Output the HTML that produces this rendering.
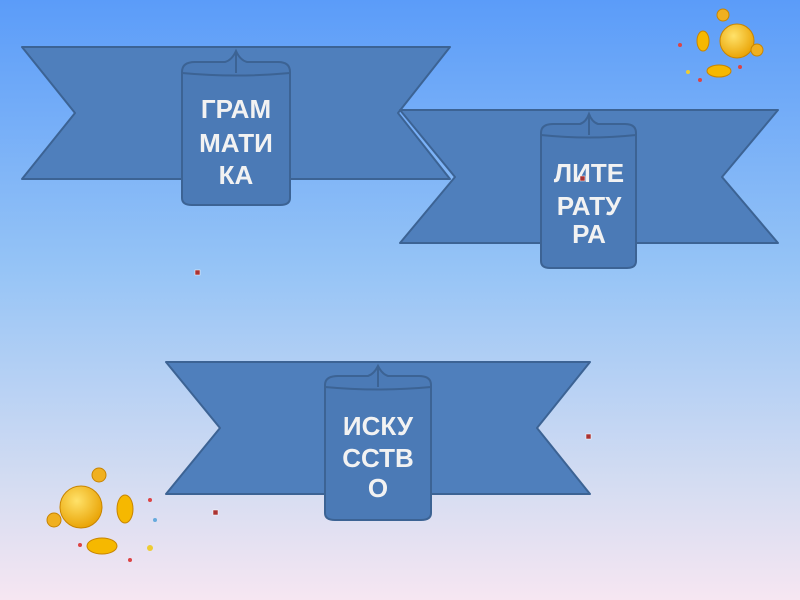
<!DOCTYPE html>
<html><head><meta charset="utf-8"><style>
html,body{margin:0;padding:0;width:800px;height:600px;overflow:hidden}
</style></head><body>
<svg width="800" height="600" xmlns="http://www.w3.org/2000/svg">
<defs>
<linearGradient id="bg" x1="0" y1="0" x2="0" y2="1">
<stop offset="0" stop-color="#5b9cf9"/>
<stop offset="0.45" stop-color="#96c4f6"/>
<stop offset="0.8" stop-color="#d3dcf2"/>
<stop offset="1" stop-color="#f6e6f2"/>
</linearGradient>
<radialGradient id="sm" cx="0.4" cy="0.35" r="0.7">
<stop offset="0" stop-color="#ffe26a"/><stop offset="1" stop-color="#e8a000"/>
</radialGradient>
</defs>
<rect width="800" height="600" fill="url(#bg)"/>
<g fill="#4f7fbc" stroke="#3c6394" stroke-width="2" stroke-linejoin="round">
<polygon points="22,47 450,47 398,113 450,179 22,179 75,113"/>
<polygon points="400,110 778,110 722,177 778,243 400,243 455,177"/>
<polygon points="166,362 590,362 537,428 590,494 166,494 220,428"/>
</g>
<g fill="#4b7ab6" stroke="#3c6394" stroke-width="2">
<path d="M182,72 Q182,62 195,62 L225,62 Q232,60 236,51 Q240,60 247,62 L278,62 Q290,62 290,72 L290,198 Q290,205 280,205 L192,205 Q182,205 182,198 Z"/>
<line x1="236" y1="52" x2="236" y2="73"/>
<path d="M182,73 Q236,78 290,73" fill="none"/>
<path d="M541,133 Q541,124 553,124 L580,124 Q586,122 589,114 Q592,122 598,124 L625,124 Q636,124 636,133 L636,261 Q636,268 627,268 L550,268 Q541,268 541,261 Z"/>
<line x1="589" y1="115" x2="589" y2="135"/>
<path d="M541,135 Q589,140 636,135" fill="none"/>
<path d="M325,385 Q325,376 338,376 L368,376 Q374,374 378,366 Q382,374 388,376 L419,376 Q431,376 431,385 L431,513 Q431,520 421,520 L335,520 Q325,520 325,513 Z"/>
<line x1="378" y1="367" x2="378" y2="387"/>
<path d="M325,387 Q378,392 431,387" fill="none"/>
</g>
<g font-family="Liberation Sans, sans-serif" font-weight="bold" font-size="26" fill="#f2f2f2" text-anchor="middle">
<text x="236" y="118">ГРАМ</text><text x="236" y="152">МАТИ</text><text x="236" y="184">КА</text>
<text x="589" y="182">ЛИТЕ</text><text x="589" y="215">РАТУ</text><text x="589" y="243">РА</text>
<text x="378" y="435">ИСКУ</text><text x="378" y="467">ССТВ</text><text x="378" y="497">О</text>
</g>
<g fill="#a33" stroke="#fff" stroke-width="0.5">
<rect x="195" y="270" width="5" height="5"/><rect x="586" y="434" width="5" height="5"/><rect x="213" y="510" width="5" height="5"/><rect x="580" y="176" width="5" height="5"/>
</g>
<g stroke="#c88400" stroke-width="1">
<circle cx="737" cy="41" r="17" fill="url(#sm)"/>
<ellipse cx="703" cy="41" rx="6" ry="10" fill="#f6b800"/>
<ellipse cx="719" cy="71" rx="12" ry="6" fill="#f6b800"/>
<circle cx="723" cy="15" r="6" fill="#f0b020"/>
<circle cx="757" cy="50" r="6" fill="#f0b020"/>
</g>
<g fill="#d44"><circle cx="680" cy="45" r="2"/><circle cx="688" cy="72" r="2" fill="#ec3"/><circle cx="700" cy="80" r="2"/><circle cx="740" cy="67" r="2"/></g>
<g stroke="#c88400" stroke-width="1">
<circle cx="81" cy="507" r="21" fill="url(#sm)"/>
<ellipse cx="125" cy="509" rx="8" ry="14" fill="#f6b800"/>
<ellipse cx="102" cy="546" rx="15" ry="8" fill="#f6b800"/>
<circle cx="99" cy="475" r="7" fill="#f0b020"/>
<circle cx="54" cy="520" r="7" fill="#f0b020"/>
</g>
<g fill="#d44"><circle cx="150" cy="500" r="2"/><circle cx="155" cy="520" r="2" fill="#6ad"/><circle cx="150" cy="548" r="3" fill="#ec3"/><circle cx="130" cy="560" r="2"/><circle cx="80" cy="545" r="2"/></g>
</svg>
</body></html>
